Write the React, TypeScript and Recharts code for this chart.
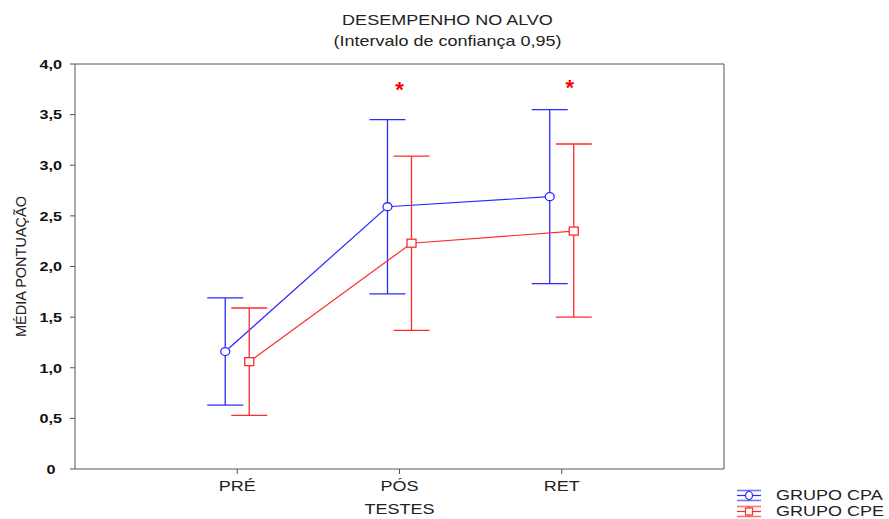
import React from 'react';
import {
  ComposedChart,
  Line,
  Scatter,
  XAxis,
  YAxis,
  ErrorBar,
  ReferenceLine,
} from 'recharts';

// Tests on the x axis (numeric positions 1..3)
const TESTS = ['PRÉ', 'PÓS', 'RET'];
const TEST_POS = [1, 2, 3];
const Y_TICKS = [0, 0.5, 1, 1.5, 2, 2.5, 3, 3.5, 4];

// GRUPO CPA (blue)
const CPA_MEAN = [1.16, 2.59, 2.69];
const CPA_LOW = [0.63, 1.73, 1.83];
const CPA_HIGH = [1.69, 3.45, 3.55];

// GRUPO CPE (red)
const CPE_MEAN = [1.06, 2.23, 2.35];
const CPE_LOW = [0.53, 1.37, 1.5];
const CPE_HIGH = [1.59, 3.09, 3.21];

// significance markers
const STAR_X = [2.0, 3.05];
const STAR_Y = [3.76, 3.78];

const SHIFT = 0.074;
const BLUE = '#2a2aff';
const RED = '#ff2a2a';
const FONT = '"Liberation Sans", Arial, sans-serif';
const STRETCH = 1.2; // reference text is drawn a bit wide

const build = (mean: number[], low: number[], high: number[], shift: number) =>
  mean.map((m, i) => ({
    x: TEST_POS[i] + shift,
    y: m,
    err: [m - low[i], high[i] - m],
  }));

const cpaData = build(CPA_MEAN, CPA_LOW, CPA_HIGH, -SHIFT);
const cpeData = build(CPE_MEAN, CPE_LOW, CPE_HIGH, SHIFT);
const starData = STAR_X.map((x, i) => ({ x, y: STAR_Y[i] }));

const fmtY = (v: number) => (v === 0 ? '0' : v.toFixed(1).replace('.', ','));
const fmtX = (v: number) => TESTS[TEST_POS.indexOf(v)] ?? '';

const XTick = (props: any) => {
  const { x, y, payload } = props;
  return (
    <g transform={`translate(${x},${y + 15})`}>
      <text transform={`scale(${STRETCH},1)`} textAnchor="middle" fill="#222" fontSize={15} fontFamily={FONT}>
        {fmtX(payload.value)}
      </text>
    </g>
  );
};

const YTick = (props: any) => {
  const { x, y, payload } = props;
  const zero = payload.value === 0;
  // the lone "0" sits centred under the other labels
  return (
    <g transform={`translate(${zero ? x - 17 : x - 6},${y})`}>
      <text
        transform={`scale(${STRETCH},1)`}
        textAnchor={zero ? 'middle' : 'end'}
        dy="0.36em"
        fill="#111"
        fontSize={13.5}
        fontWeight="bold"
        fontFamily={FONT}
      >
        {fmtY(payload.value)}
      </text>
    </g>
  );
};

const XLabel = (props: any) => {
  const { viewBox } = props;
  const cx = viewBox.x + viewBox.width / 2;
  return (
    <g transform={`translate(${cx},514)`}>
      <text transform={`scale(${STRETCH},1)`} textAnchor="middle" fill="#222" fontSize={15} fontFamily={FONT}>
        TESTES
      </text>
    </g>
  );
};

const CircleDot = (props: any) => {
  const { cx, cy } = props;
  if (cx == null || cy == null) return null;
  return <ellipse cx={cx} cy={cy} rx={4.5} ry={4} fill="white" stroke={BLUE} strokeWidth={1.3} />;
};

const SquareDot = (props: any) => {
  const { cx, cy } = props;
  if (cx == null || cy == null) return null;
  return <rect x={cx - 4.5} y={cy - 4} width={9} height={8} fill="white" stroke={RED} strokeWidth={1.3} />;
};

const Star = (props: any) => {
  const { cx, cy } = props;
  return (
    <text x={cx} y={cy} dy={9} textAnchor="middle" fill="#ff0000" fontSize={22} fontWeight="bold" fontFamily={FONT}>
      *
    </text>
  );
};

const LegendIcon = ({ color, square }: { color: string; square: boolean }) => (
  <svg width={26} height={13} style={{ display: 'block' }}>
    <line x1={1} y1={1.5} x2={25} y2={1.5} stroke={color} strokeWidth={1.6} opacity={0.65} />
    <line x1={1} y1={6.5} x2={25} y2={6.5} stroke={color} strokeWidth={1.2} />
    <line x1={1} y1={11.5} x2={25} y2={11.5} stroke={color} strokeWidth={1.6} opacity={0.65} />
    <line x1={13} y1={1.5} x2={13} y2={11.5} stroke={color} strokeWidth={1.2} />
    {square ? (
      <rect x={9.5} y={3} width={7} height={7} fill="white" stroke={color} strokeWidth={1.2} />
    ) : (
      <ellipse cx={13} cy={6.5} rx={3.5} ry={4} fill="white" stroke={color} strokeWidth={1.2} />
    )}
  </svg>
);

const LegendRow = ({ color, square, label, top }: { color: string; square: boolean; label: string; top: number }) => (
  <div style={{ position: 'absolute', left: 736, top, height: 16, display: 'flex', alignItems: 'center' }}>
    <LegendIcon color={color} square={square} />
    <span
      style={{
        marginLeft: 14,
        fontFamily: FONT,
        fontSize: 15,
        color: '#222',
        display: 'inline-block',
        transform: `scaleX(${STRETCH})`,
        transformOrigin: 'left center',
        lineHeight: '16px',
      }}
    >
      {label}
    </span>
  </div>
);

export default function App() {
  return (
    <div style={{ position: 'absolute', left: 0, top: 0, width: 889, height: 519, background: 'white', overflow: 'hidden' }}>
      <div
        style={{
          position: 'absolute',
          left: 0,
          width: 889,
          top: 9,
          textAlign: 'center',
          fontFamily: FONT,
          fontSize: 15,
          lineHeight: '21px',
          color: '#222',
        }}
      >
        <div style={{ transform: `scaleX(${STRETCH})`, marginLeft: 6 }}>DESEMPENHO NO ALVO</div>
        <div style={{ transform: `scaleX(${STRETCH})`, marginLeft: 6 }}>(Intervalo de confiança 0,95)</div>
      </div>
      <ComposedChart width={889} height={519} margin={{ top: 64, right: 165, bottom: 0, left: 15 }}>
        <XAxis
          type="number"
          dataKey="x"
          domain={[0, 4]}
          ticks={TEST_POS}
          height={50}
          stroke="#555"
          tickSize={5}
          tick={<XTick />}
          label={<XLabel />}
        />
        <YAxis
          type="number"
          domain={[0, 4]}
          ticks={Y_TICKS}
          width={60}
          stroke="#555"
          tickSize={5}
          tick={<YTick />}
          label={{
            value: 'MÉDIA PONTUAÇÃO',
            angle: -90,
            position: 'insideLeft',
            offset: 6,
            style: { textAnchor: 'middle' },
            fill: '#222',
            fontSize: 14.5,
            fontFamily: FONT,
          }}
        />
        <ReferenceLine y={4} stroke="#555" />
        <ReferenceLine x={4} stroke="#555" />
        <Line
          data={cpaData}
          dataKey="y"
          stroke={BLUE}
          strokeWidth={1.2}
          dot={<CircleDot />}
          activeDot={false}
          isAnimationActive={false}
          name="GRUPO CPA"
        >
          <ErrorBar dataKey="err" direction="y" width={18} stroke={BLUE} strokeWidth={1.3} />
        </Line>
        <Line
          data={cpeData}
          dataKey="y"
          stroke={RED}
          strokeWidth={1.2}
          dot={<SquareDot />}
          activeDot={false}
          isAnimationActive={false}
          name="GRUPO CPE"
        >
          <ErrorBar dataKey="err" direction="y" width={18} stroke={RED} strokeWidth={1.3} />
        </Line>
        <Scatter data={starData} dataKey="y" shape={<Star />} isAnimationActive={false} legendType="none" />
      </ComposedChart>
      <LegendRow color={BLUE} square={false} label="GRUPO CPA" top={487} />
      <LegendRow color={RED} square={true} label="GRUPO CPE" top={503} />
    </div>
  );
}
